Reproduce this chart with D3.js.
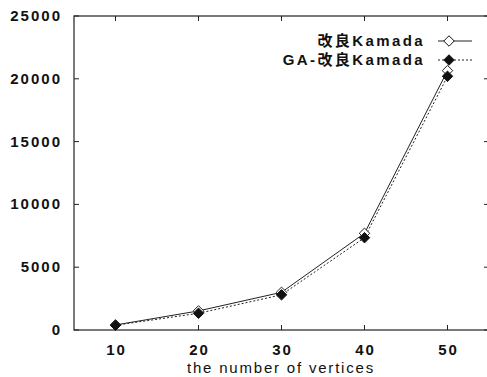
<!DOCTYPE html>
<html>
<head>
<meta charset="utf-8">
<script src="https://cdn.jsdelivr.net/npm/d3@7"></script>
<style>
  body { margin: 0; background: #fff; }
  text { font-family: "Liberation Sans", "Noto Sans CJK JP", sans-serif; font-weight: bold; fill: #111; }
</style>
</head>
<body>
<svg width="487" height="377"></svg>
<script>
// data
const vertices = [10, 20, 30, 40, 50];
const kamada = [400, 1520, 3000, 7700, 20650];
const gaKamada = [380, 1330, 2800, 7350, 20200];
const seriesNames = ['改良Kamada', 'GA-改良Kamada'];
const yTicks = [0, 5000, 10000, 15000, 20000, 25000];

const svg = d3.select('svg');
const plotLeft = 74, plotRight = 489, plotTop = 16, plotBottom = 330;

const x = d3.scaleLinear().domain([5, 55]).range([plotLeft, plotRight]);
const y = d3.scaleLinear().domain([0, 25000]).range([plotBottom, plotTop]);

// frame
svg.append('rect')
  .attr('x', plotLeft).attr('y', plotTop)
  .attr('width', plotRight - plotLeft).attr('height', plotBottom - plotTop)
  .attr('fill', 'none').attr('stroke', '#222').attr('stroke-width', 1.2);

// inward ticks on all four sides
const ticks = svg.append('g').attr('stroke', '#222').attr('stroke-width', 1);
vertices.forEach(v => {
  ticks.append('line').attr('x1', x(v)).attr('x2', x(v)).attr('y1', plotBottom).attr('y2', plotBottom - 5);
  ticks.append('line').attr('x1', x(v)).attr('x2', x(v)).attr('y1', plotTop).attr('y2', plotTop + 5);
});
yTicks.forEach(v => {
  ticks.append('line').attr('x1', plotLeft).attr('x2', plotLeft + 5).attr('y1', y(v)).attr('y2', y(v));
  ticks.append('line').attr('x1', plotRight).attr('x2', plotRight - 5).attr('y1', y(v)).attr('y2', y(v));
});

// tick labels
svg.append('g').selectAll('text')
  .data(yTicks).enter().append('text')
  .attr('x', plotLeft - 12).attr('y', d => y(d) + 5)
  .attr('text-anchor', 'end')
  .style('font-size', '15px')
  .style('letter-spacing', '2px')
  .text(d => d);

svg.append('g').selectAll('text')
  .data(vertices).enter().append('text')
  .attr('x', d => x(d) + 1).attr('y', plotBottom + 25)
  .attr('text-anchor', 'middle')
  .style('font-size', '15px')
  .style('letter-spacing', '2px')
  .text(d => d);

svg.append('text')
  .attr('x', 281).attr('y', 373)
  .attr('text-anchor', 'middle')
  .style('font-size', '15px')
  .style('font-weight', 'normal')
  .style('letter-spacing', '1.8px')
  .text('the number of vertices');

// lines
const line = d3.line().x((d, i) => x(vertices[i])).y(d => y(d));
svg.append('path').datum(kamada)
  .attr('d', line).attr('fill', 'none').attr('stroke', '#222').attr('stroke-width', 1);
svg.append('path').datum(gaKamada)
  .attr('d', line).attr('fill', 'none').attr('stroke', '#222').attr('stroke-width', 1)
  .attr('stroke-dasharray', '2,2');

const diamond = d3.symbol().type(d3.symbolDiamond2).size(70);

svg.append('g').selectAll('path')
  .data(kamada).enter().append('path')
  .attr('d', diamond)
  .attr('transform', (d, i) => `translate(${x(vertices[i])},${y(d)})`)
  .attr('fill', '#fff').attr('stroke', '#222').attr('stroke-width', 1);

svg.append('g').selectAll('path')
  .data(gaKamada).enter().append('path')
  .attr('d', diamond)
  .attr('transform', (d, i) => `translate(${x(vertices[i])},${y(d)})`)
  .attr('fill', '#111').attr('stroke', '#111').attr('stroke-width', 1);

// legend
const legend = svg.append('g');
seriesNames.forEach((name, i) => {
  const ly = 41 + i * 19;
  legend.append('text')
    .attr('x', 425).attr('y', ly + 5)
    .attr('text-anchor', 'end')
    .style('font-size', '15px')
    .style('letter-spacing', '2.4px')
    .text(name);
  legend.append('line')
    .attr('x1', 438).attr('x2', 472).attr('y1', ly).attr('y2', ly)
    .attr('stroke', '#222').attr('stroke-width', 1)
    .attr('stroke-dasharray', i === 0 ? null : '2,2');
  legend.append('path')
    .attr('d', diamond)
    .attr('transform', `translate(449,${ly})`)
    .attr('fill', i === 0 ? '#fff' : '#111')
    .attr('stroke', '#111').attr('stroke-width', 1);
});
</script>
</body>
</html>
